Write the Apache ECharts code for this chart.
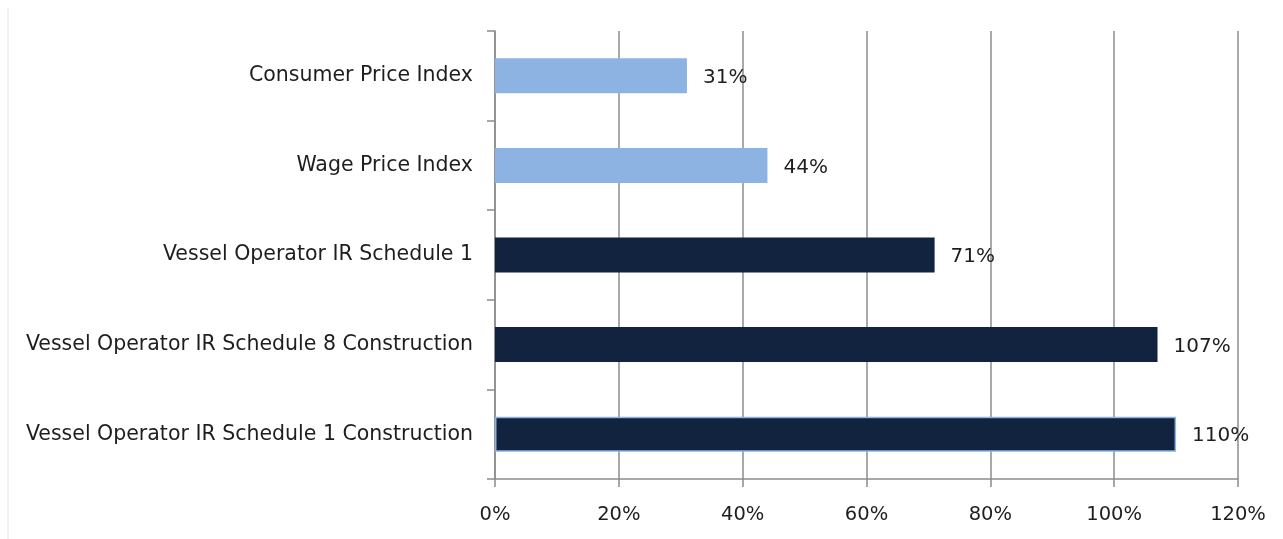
<!DOCTYPE html>
<html>
<head>
<meta charset="utf-8">
<script src="https://cdn.jsdelivr.net/npm/echarts@6/dist/echarts.min.js"></script>
<style>
  html, body { margin: 0; padding: 0; background: #fff; }
  #chart { width: 1283px; height: 539px; }
</style>
</head>
<body>
<div id="chart"></div>
<script>
const categories = [
  'Consumer Price Index',
  'Wage Price Index',
  'Vessel Operator IR Schedule 1',
  'Vessel Operator IR Schedule 8 Construction',
  'Vessel Operator IR Schedule 1 Construction',
];
const values = [31, 44, 71, 107, 110];
const barColors = ['#8db3e2', '#8db3e2', '#12233f', '#12233f', '#12233f'];
const xTicks = [0, 20, 40, 60, 80, 100, 120];

const font = 'DejaVu Sans';
const gray = '#8c8c8c';

const chart = echarts.init(document.getElementById('chart'));
chart.setOption({
  animation: false,
  backgroundColor: '#fff',
  grid: { left: 495, right: 45, top: 31, bottom: 60 },
  graphic: [
    {
      type: 'line',
      shape: { x1: 8, y1: 8, x2: 8, y2: 539 },
      style: { stroke: '#e4e4e4', lineWidth: 1 },
    },
  ],
  xAxis: {
    type: 'value',
    min: xTicks[0],
    max: xTicks[xTicks.length - 1],
    interval: 20,
    axisLine: { show: true, lineStyle: { color: gray, width: 1.5 } },
    axisTick: { show: true, length: 8, lineStyle: { color: gray, width: 1.5 } },
    splitLine: { show: true, lineStyle: { color: gray, width: 1.5 } },
    axisLabel: {
      formatter: '{value}%',
      color: '#1e1e1e',
      fontFamily: font,
      fontSize: 19.5,
      margin: 26,
    },
  },
  yAxis: {
    type: 'category',
    inverse: true,
    data: categories,
    axisLine: { show: true, lineStyle: { color: gray, width: 1.5 } },
    axisTick: { show: true, length: 8, lineStyle: { color: gray, width: 1.5 } },
    axisLabel: {
      color: '#1e1e1e',
      fontFamily: font,
      fontSize: 20.5,
      margin: 22,
    },
  },
  series: [
    {
      type: 'bar',
      barWidth: 35,
      data: values.map((v, i) => ({
        value: v,
        itemStyle: {
          color: barColors[i],
          borderColor: i === values.length - 1 ? '#8db3e2' : barColors[i],
          borderWidth: i === values.length - 1 ? 1.5 : 0,
        },
      })),
      label: {
        show: true,
        position: 'right',
        distance: 16,
        formatter: '{c}%',
        color: '#1e1e1e',
        fontFamily: font,
        fontSize: 20,
        offset: [0, 2],
      },
    },
  ],
});
</script>
</body>
</html>
